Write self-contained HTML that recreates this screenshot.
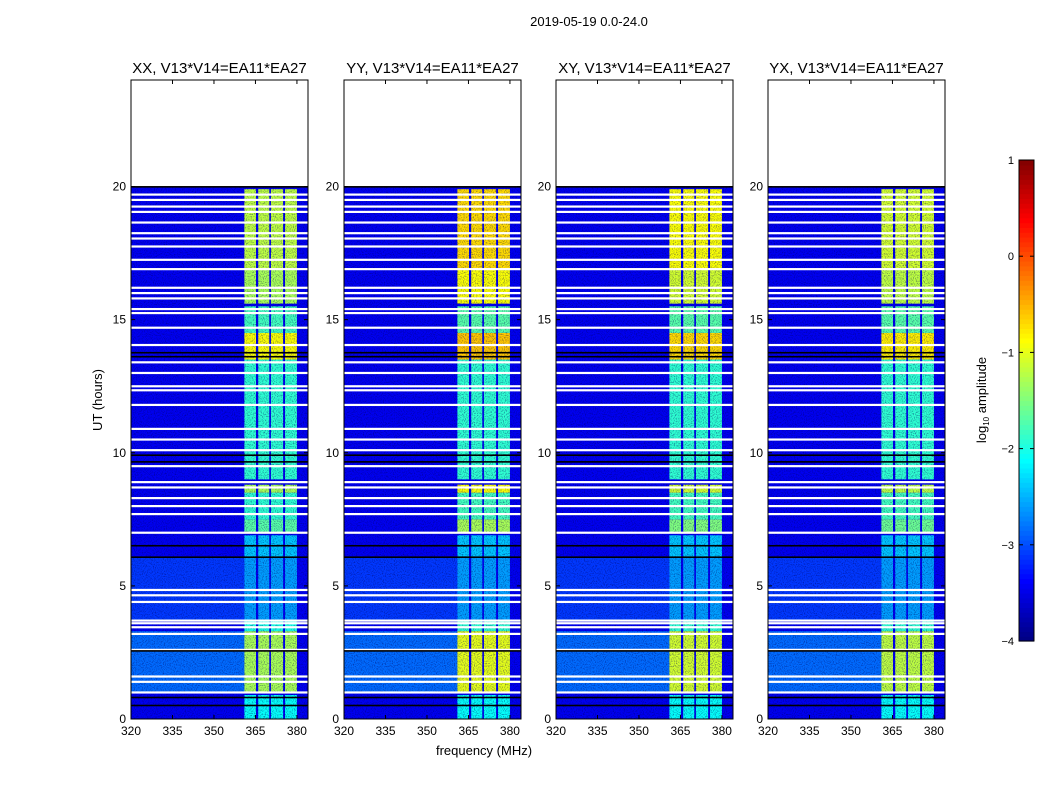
<!DOCTYPE html>
<html><head><meta charset="utf-8">
<style>
body{margin:0;background:#fff;width:1050px;height:800px;overflow:hidden}
svg{display:block;font-family:"Liberation Sans",sans-serif}
</style></head>
<body>
<svg id="chart" width="1050" height="800" xmlns="http://www.w3.org/2000/svg">
<defs>
<filter id="noise" x="0" y="0" width="100%" height="100%">
<feTurbulence type="fractalNoise" baseFrequency="0.9" numOctaves="1" seed="3" result="n"/>
<feColorMatrix in="n" type="matrix" values="0 0 0 0 0  0 0 0 0 0  0 0 0 0 0.1  0 0 0 1.6 -0.75"/>
</filter>
</defs>
<text x="589" y="26" font-size="13" text-anchor="middle">2019-05-19 0.0-24.0</text>
<text x="0" y="0" font-size="13" text-anchor="middle" transform="translate(102,400) rotate(-90)">UT (hours)</text>
<text x="484" y="755" font-size="13" text-anchor="middle">frequency (MHz)</text>
<g id="panels"></g>
<g id="cbar"></g>
<text font-size="13" text-anchor="middle" transform="translate(986,400) rotate(-90)">log<tspan font-size="8" dy="3">10</tspan><tspan dy="-3"> amplitude</tspan></text>
</svg>
<script>
const panelTitles = ["XX, V13*V14=EA11*EA27","YY, V13*V14=EA11*EA27","XY, V13*V14=EA11*EA27","YX, V13*V14=EA11*EA27"];
const xTicks = [320,335,350,365,380];
const yTicks = [0,5,10,15,20];
const cbarTicks = [1,0,-1,-2,-3,-4];
const bandFreqs = [[361,365.2],[366,370],[370.6,375],[375.7,380]];
const segStart = [0,1.0,3.3,3.7,4.9,6.1,7.0,7.5,8.5,9.0,13.5,14.5,15.6,16.9];
const segEnd   = [0.9,3.3,3.7,4.9,6.1,6.9,7.5,8.5,8.8,13.5,14.5,15.5,16.9,19.9];
const bandLevels = [
 [-2.1,-1.3,-2.0,-2.6,-2.6,-2.4,-1.7,-1.9,-1.3,-1.9,-0.9,-1.8,-1.3,-1.2],
 [-2.1,-1.0,-1.9,-2.6,-2.6,-2.4,-1.3,-1.8,-0.9,-1.9,-0.6,-1.7,-0.9,-0.7],
 [-2.1,-1.1,-1.9,-2.6,-2.6,-2.4,-1.5,-1.8,-1.1,-1.9,-0.7,-1.7,-1.1,-0.9],
 [-2.1,-1.2,-1.9,-2.6,-2.6,-2.4,-1.6,-1.8,-1.2,-1.9,-0.8,-1.7,-1.2,-1.1]
];
const bgLevel = -3.45;
const bgLightStart = [1.0,3.7,4.9], bgLightEnd = [3.3,4.9,6.1], bgLightLevel = [-2.85,-3.1,-3.1];
const flagHours = [1.0,1.4,1.6,2.6,3.2,3.45,3.6,3.7,4.4,4.65,4.85,7.0,7.7,8.0,8.3,8.7,8.9,9.5,10.1,10.5,10.9,11.8,12.35,12.5,13.0,13.4,14.05,14.7,15.25,15.4,15.8,16.0,16.2,16.9,17.25,17.75,18.05,18.25,18.65,19.05,19.25,19.5,19.7];
const blackHours = [0.5,0.8,2.55,6.07,6.5,9.65,9.9,13.6,13.75,19.98];

function jet(v){let t=(v+4)/5;t=Math.max(0,Math.min(1,t));
 const f=x=>Math.round(255*Math.max(0,Math.min(1,x)));
 const r=f(Math.min(4*t-1.5,-4*t+4.5)),g=f(Math.min(4*t-0.5,-4*t+3.5)),b=f(Math.min(4*t+0.5,-4*t+2.5));
 return `rgb(${r},${g},${b})`;}
const NS="http://www.w3.org/2000/svg";
function mk(tag,attrs,parent){const e=document.createElementNS(NS,tag);for(const k in attrs)e.setAttribute(k,attrs[k]);parent.appendChild(e);return e;}
const panelX=[131,344,556,768], PW=177, PT=80, PB=719;
const fx=(x0,f)=>x0+(f-320)*PW/64;
const hy=h=>PB-h*(PB-PT)/24;
const gP=document.getElementById('panels');
panelTitles.forEach((title,p)=>{
 const x0=panelX[p];
 const g=mk('g',{},gP);
 
 
 const bg=mk('rect',{x:x0,y:hy(20),width:PW,height:hy(0)-hy(20),fill:jet(bgLevel)},g);
 
 
 bgLightStart.forEach((s,i)=>{
  const r=mk('rect',{x:x0,y:hy(bgLightEnd[i]),width:fx(x0,361)-x0,height:hy(s)-hy(bgLightEnd[i]),fill:jet(bgLightLevel[i])},g);
  
  
 });
 segStart.forEach((s,i)=>{
  bandFreqs.forEach(b=>{
   const r=mk('rect',{x:fx(x0,b[0]),y:hy(segEnd[i]),width:fx(x0,b[1])-fx(x0,b[0]),height:hy(s)-hy(segEnd[i]),fill:jet(bandLevels[p][i])},g);
   
   
  });
 });
 const nz=mk('rect',{x:x0,y:hy(20),width:PW,height:hy(0)-hy(20),fill:'#000',filter:'url(#noise)'},g);
 
 
 flagHours.forEach(h=>{
  const r=mk('rect',{x:x0,y:hy(h)-1,width:PW,height:2.2,fill:'#fff'},g);
  
  
 });
 blackHours.forEach(h=>{
  const r=mk('rect',{x:x0,y:hy(h)-1,width:PW,height:1.6,fill:'#000'},g);
  
  
 });
 const fr=mk('rect',{x:x0,y:PT,width:PW,height:PB-PT,fill:'none',stroke:'#000','stroke-width':1},g);
 
 
 const t=mk('text',{x:x0+PW/2,y:73,'font-size':15,'text-anchor':'middle'},g);t.textContent=title;
 
 
 xTicks.forEach(v=>{const x=fx(x0,v);
  mk('line',{x1:x,x2:x,y1:PB,y2:PB-4,stroke:'#000'},g);mk('line',{x1:x,x2:x,y1:PT,y2:PT+4,stroke:'#000'},g);
  const l=mk('text',{x:x,y:PB+16,'font-size':12,'text-anchor':'middle'},g);l.textContent=v;
  
  });
 yTicks.forEach(v=>{const y=hy(v);
  mk('line',{x1:x0,x2:x0+4,y1:y,y2:y,stroke:'#000'},g);mk('line',{x1:x0+PW,x2:x0+PW-4,y1:y,y2:y,stroke:'#000'},g);
  const l=mk('text',{x:x0-5,y:y+4,'font-size':12,'text-anchor':'end'},g);l.textContent=v;
  
  });
});
const gC=document.getElementById('cbar');
const CX=1019,CW=15,CT=160,CB=641;
const cy=v=>CB-(v+4)*(CB-CT)/5;
for(let i=0;i<100;i++){const v0=-4+i*0.05;
 mk('rect',{x:CX,y:cy(v0+0.05),width:CW,height:(CB-CT)/100+0.6,fill:jet(v0+0.025)},gC);}
mk('rect',{x:CX,y:CT,width:CW,height:CB-CT,fill:'none',stroke:'#000'},gC);
cbarTicks.forEach(v=>{const y=cy(v);
 mk('line',{x1:CX,x2:CX+4,y1:y,y2:y,stroke:'#000'},gC);mk('line',{x1:CX+CW,x2:CX+CW-4,y1:y,y2:y,stroke:'#000'},gC);
 const l=mk('text',{x:1014,y:y+4,'font-size':11,'text-anchor':'end'},gC);l.textContent=v<0?'\u2212'+(-v):v;
 
 });
</script>
</body></html>
